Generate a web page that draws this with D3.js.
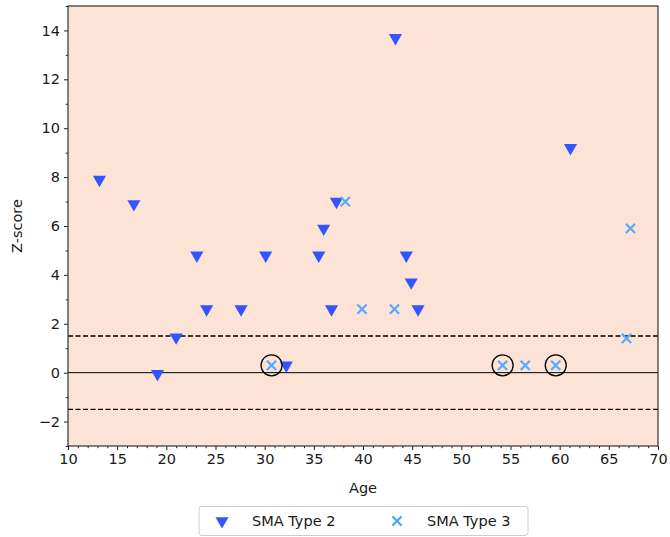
<!DOCTYPE html>
<html><head><meta charset="utf-8">
<script src="https://cdn.jsdelivr.net/npm/d3@7"></script>
<style>html,body{margin:0;padding:0;background:#fff;overflow:hidden;}</style>
</head><body>
<svg id="c" width="670" height="537"></svg>
<script>
const type2Age = [13.2, 16.7, 19.1, 21.0, 23.1, 24.1, 27.6, 30.1, 32.2, 35.5, 36.0, 36.8, 37.3, 43.3, 44.4, 44.9, 45.6, 61.1];
const type2Z   = [7.9, 6.9, -0.05, 1.45, 4.8, 2.6, 2.6, 4.8, 0.3, 4.8, 5.9, 2.6, 7.0, 13.7, 4.8, 3.7, 2.6, 9.2];
const type3Age = [30.7, 38.2, 39.9, 43.2, 54.2, 56.5, 59.6, 66.8, 67.2];
const type3Z   = [0.3, 7.0, 2.6, 2.6, 0.3, 0.3, 0.3, 1.4, 5.9];
const circledAge = [30.7, 54.2, 59.6];
const circledZ   = [0.3, 0.3, 0.3];
const thresholds = [1.5, -1.5];
const xTicks = [10,15,20,25,30,35,40,45,50,55,60,65,70];
const yTicks = [-2,0,2,4,6,8,10,12,14];
const seriesNames = ["SMA Type 2", "SMA Type 3"];

const C2 = "#3355ff", C3 = "#55aaff";
const L = 68, R = 658, T = 6, B = 446;
const svg = d3.select("#c");
const font = "DejaVu Sans, sans-serif";
const x = d3.scaleLinear().domain([10,70]).range([L,R]);
const y = d3.scaleLinear().domain([-3,15]).range([B,T]);

svg.append("rect").attr("x",L).attr("y",T).attr("width",R-L).attr("height",B-T).attr("fill","#fce3d6");

// reference lines
svg.append("line").attr("x1",L).attr("x2",R).attr("y1",y(0)).attr("y2",y(0)).attr("stroke","#000").attr("stroke-width",1);
thresholds.forEach(t=>{
  svg.append("line").attr("x1",L).attr("x2",R).attr("y1",y(t)).attr("y2",y(t))
    .attr("stroke","#000").attr("stroke-width",1.3).attr("stroke-dasharray","5,2.5");
});

// axes
const xAxis = svg.append("g").attr("transform",`translate(0,${B})`)
  .call(d3.axisBottom(x).tickValues(xTicks).tickFormat(d3.format("d")).tickSize(4).tickPadding(4));
const xMinor = svg.append("g").attr("transform",`translate(0,${B})`)
  .call(d3.axisBottom(x).tickValues(d3.range(10,71,1).filter(v=>v%5!==0)).tickFormat("").tickSize(2.2));
const yAxis = svg.append("g").attr("transform",`translate(${L},0)`)
  .call(d3.axisLeft(y).tickValues(yTicks).tickFormat(d=>d<0?"\u2212"+Math.abs(d):d).tickSize(4).tickPadding(4));
const yMinor = svg.append("g").attr("transform",`translate(${L},0)`)
  .call(d3.axisLeft(y).tickValues(d3.range(-3,16,1).filter(v=>v%2!==0)).tickFormat("").tickSize(2.2));
[xAxis,xMinor,yAxis,yMinor].forEach(g=>{
  g.select(".domain").remove();
  g.selectAll("line").attr("stroke","#222").attr("stroke-width",1);
  g.selectAll("text").attr("font-family",font).attr("font-size",14.5).attr("fill","#1a1a1a");
});

// frame
svg.append("rect").attr("x",L).attr("y",T).attr("width",R-L).attr("height",B-T)
  .attr("fill","none").attr("stroke","#333").attr("stroke-width",1.2);

// markers
const tri = d3.symbol().type(d3.symbolTriangle).size(75);
svg.append("g").selectAll("path").data(type2Age.map((a,i)=>[a,type2Z[i]])).join("path")
  .attr("d",tri).attr("fill",C2)
  .attr("transform",d=>`translate(${x(d[0])},${y(d[1])}) rotate(180)`);

function crossPath(s){return `M${-s},${-s}L${s},${s}M${-s},${s}L${s},${-s}`;}
svg.append("g").selectAll("path").data(type3Age.map((a,i)=>[a,type3Z[i]])).join("path")
  .attr("d",crossPath(4.6)).attr("stroke",C3).attr("stroke-width",2.2).attr("fill","none")
  .attr("transform",d=>`translate(${x(d[0])},${y(d[1])})`);

svg.append("g").selectAll("circle").data(circledAge.map((a,i)=>[a,circledZ[i]])).join("circle")
  .attr("cx",d=>x(d[0])).attr("cy",d=>y(d[1])).attr("r",10.5)
  .attr("fill","none").attr("stroke","#000").attr("stroke-width",1.3);

// axis labels
svg.append("text").attr("x",(L+R)/2).attr("y",493).attr("text-anchor","middle")
  .attr("font-family",font).attr("font-size",14.5).attr("fill","#1a1a1a").text("Age");
svg.append("text").attr("transform",`translate(22,${(T+B)/2}) rotate(-90)`).attr("text-anchor","middle")
  .attr("font-family",font).attr("font-size",14.5).attr("fill","#1a1a1a").text("Z-score");

// legend
const lg = svg.append("g");
lg.append("rect").attr("x",199).attr("y",506.5).attr("width",329).attr("height",29).attr("rx",3)
  .attr("fill","#fff").attr("stroke","#ccc").attr("stroke-width",1);
lg.append("path").attr("d",tri).attr("fill",C2).attr("transform","translate(222,521) rotate(180)");
lg.append("text").attr("x",252).attr("y",526).attr("font-family",font).attr("font-size",14.5).attr("fill","#1a1a1a").text(seriesNames[0]);
lg.append("path").attr("d",crossPath(4.6)).attr("stroke",C3).attr("stroke-width",2.2).attr("transform","translate(397,521)");
lg.append("text").attr("x",427).attr("y",526).attr("font-family",font).attr("font-size",14.5).attr("fill","#1a1a1a").text(seriesNames[1]);
</script>
</body></html>
